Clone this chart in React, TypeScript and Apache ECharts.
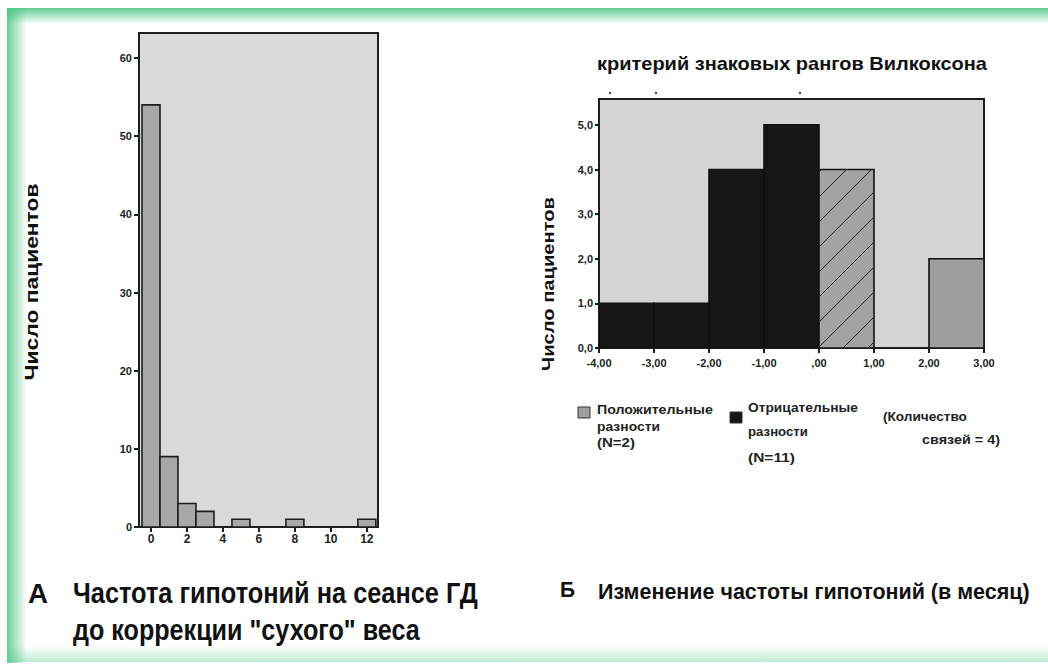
import React, { useEffect, useRef } from "react";
import * as echarts from "echarts";

// ---- data ----
const leftBinCenters = [0, 1, 2, 3, 5, 8, 12];
const leftCounts = [54, 9, 3, 2, 1, 1, 1];
const leftXTicks = [0, 2, 4, 6, 8, 10, 12];
const leftYTicks = [0, 10, 20, 30, 40, 50, 60];

const rightBinStarts = [-4, -3, -2, -1, 0, 2];
const rightBinEnds = [-3, -2, -1, 0, 1, 3];
const rightCounts = [1, 1, 4, 5, 4, 2];
const rightGroups = ["neg", "neg", "neg", "neg", "tie", "pos"];
const rightYTicks = [0, 1, 2, 3, 4, 5];

const yAxisTitle = "Число пациентов";
const rightTitle = "критерий знаковых рангов Вилкоксона";
const legendPos = ["Положительные", "разности", "(N=2)"];
const legendNeg = ["Отрицательные", "разности", "(N=11)"];
const legendTies = ["(Количество", "связей = 4)"];
const captionALetter = "А";
const captionALines = ["Частота гипотоний на сеансе ГД", "до коррекции \"сухого\" веса"];
const captionBLetter = "Б";
const captionB = "Изменение частоты гипотоний (в месяц)";

const FONT = '"Liberation Sans", Arial, sans-serif';

let measureCtx: CanvasRenderingContext2D | null = null;
function textWidth(text: string, font: string): number {
  if (!measureCtx) measureCtx = document.createElement("canvas").getContext("2d");
  if (!measureCtx) return 100;
  measureCtx.font = font;
  return measureCtx.measureText(text).width || 1;
}

function fitText(
  text: string,
  x: number,
  y: number,
  size: number,
  targetW: number,
  opts: { bold?: boolean; align?: string; fill?: string; rotation?: number } = {}
) {
  const font = `${opts.bold === false ? "normal" : "bold"} ${size}px ${FONT}`;
  const w = textWidth(text, font);
  return {
    type: "text",
    x,
    y,
    rotation: opts.rotation || 0,
    scaleX: targetW / w,
    z: 10,
    style: {
      text,
      font,
      fill: opts.fill || "#111",
      textAlign: opts.align || "left",
      textVerticalAlign: "middle",
      verticalAlign: "middle",
    },
  };
}

function fmtX(v: number) {
  const s = Math.abs(v).toFixed(2).replace(".", ",");
  const t = s.startsWith("0,") ? s.slice(1) : s;
  return (v < 0 ? "-" : "") + t;
}
function fmtY(v: number) {
  return v.toFixed(1).replace(".", ",");
}

const axisLineStyle = { color: "#1e1e1e", width: 2 };

function rightSeries(name: string, group: string, fill: string, hatch: boolean) {
  const data: number[][] = [];
  rightGroups.forEach((g, i) => {
    if (g === group) data.push([rightBinStarts[i], rightBinEnds[i], rightCounts[i]]);
  });
  return {
    type: "custom",
    name,
    xAxisIndex: 1,
    yAxisIndex: 1,
    clip: true,
    encode: { x: [0, 1], y: 2 },
    data,
    renderItem: (params: any, api: any) => {
      const p0 = api.coord([api.value(0), api.value(2)]);
      const p1 = api.coord([api.value(1), 0]);
      const x1 = p0[0], y1 = p0[1], x2 = p1[0], y2 = p1[1];
      const children: any[] = [
        {
          type: "rect",
          shape: { x: x1, y: y1, width: x2 - x1, height: y2 - y1 },
          style: { fill, stroke: "#111", lineWidth: 1.6 },
        },
      ];
      if (hatch) {
        const sp = 25;
        const c0 = x2 + y2 - 31;
        const cs: number[] = [];
        for (let c = c0; c > x1 + y1; c -= sp) cs.push(c);
        for (let c = c0 + sp; c < x2 + y2; c += sp) cs.push(c);
        cs.forEach((c) => {
          const lo = Math.max(x1, c - y2);
          const hi = Math.min(x2, c - y1);
          if (hi - lo > 0.5) {
            children.push({
              type: "line",
              shape: { x1: lo, y1: c - lo, x2: hi, y2: c - hi },
              style: { stroke: "#222", lineWidth: 1 },
            });
          }
        });
      }
      return { type: "group", children };
    },
  };
}

export default function App() {
  const ref = useRef<HTMLDivElement>(null);
  useEffect(() => {
    document.body.style.margin = "0";
    if (!ref.current) return;
    const chart = echarts.init(ref.current, null, { renderer: "svg" });

    const green = "rgba(70,196,128,";
    const graphic: any[] = [
      // frame
      {
        type: "rect",
        shape: { x: 7, y: 8, width: 1041, height: 16 },
        z: 1,
        style: {
          fill: new echarts.graphic.LinearGradient(0, 0, 0, 1, [
            { offset: 0, color: green + "0.85)" },
            { offset: 1, color: green + "0)" },
          ]),
        },
      },
      {
        type: "rect",
        shape: { x: 7, y: 8, width: 20, height: 655 },
        z: 1,
        style: {
          fill: new echarts.graphic.LinearGradient(0, 0, 1, 0, [
            { offset: 0, color: green + "0.8)" },
            { offset: 1, color: green + "0)" },
          ]),
        },
      },
      {
        type: "rect",
        shape: { x: 7, y: 646, width: 1041, height: 16 },
        z: 1,
        style: {
          fill: new echarts.graphic.LinearGradient(0, 0, 0, 1, [
            { offset: 0, color: green + "0)" },
            { offset: 1, color: green + "0.35)" },
          ]),
        },
      },
      // y axis titles
      fitText(yAxisTitle, 31, 282, 18, 197, { rotation: Math.PI / 2, align: "center" }),
      fitText(yAxisTitle, 548, 284, 17, 174, { rotation: Math.PI / 2, align: "center" }),
      // right title
      fitText(rightTitle, 792, 63, 19, 390, { align: "center" }),
      // specks above right plot
      { type: "circle", shape: { cx: 610, cy: 93, r: 1.2 }, style: { fill: "#444" } },
      { type: "circle", shape: { cx: 656, cy: 93, r: 1.2 }, style: { fill: "#444" } },
      { type: "circle", shape: { cx: 800, cy: 93, r: 1.2 }, style: { fill: "#444" } },
      // legend
      { type: "rect", shape: { x: 578, y: 407, width: 12, height: 11 }, style: { fill: "#9e9e9e", stroke: "#333", lineWidth: 1 } },
      fitText(legendPos[0], 597, 410, 12, 116, { fill: "#222" }),
      fitText(legendPos[1], 597, 427, 12, 63, { fill: "#222" }),
      fitText(legendPos[2], 597, 443, 12, 38, { fill: "#222" }),
      { type: "rect", shape: { x: 730, y: 412, width: 12, height: 11 }, style: { fill: "#161616", stroke: "#333", lineWidth: 1 } },
      fitText(legendNeg[0], 748, 408, 12, 110, { fill: "#222" }),
      fitText(legendNeg[1], 748, 432, 12, 60, { fill: "#222" }),
      fitText(legendNeg[2], 748, 458, 12, 47, { fill: "#222" }),
      fitText(legendTies[0], 883, 417, 12, 84, { fill: "#222" }),
      fitText(legendTies[1], 922, 440, 12, 78, { fill: "#222" }),
      // captions
      fitText(captionALetter, 28, 593, 28, 20),
      fitText(captionALines[0], 73, 593, 29, 405),
      fitText(captionALines[1], 73, 630, 29, 347),
      fitText(captionBLetter, 560, 590, 22, 15),
      fitText(captionB, 598, 591, 22, 432),
    ];

    chart.setOption({
      animation: false,
      backgroundColor: "#ffffff",
      grid: [
        {
          left: 139,
          top: 33,
          width: 239,
          height: 494,
          show: true,
          backgroundColor: "#dadada",
          borderColor: "#1e1e1e",
          borderWidth: 2,
        },
        {
          left: 599,
          top: 99,
          width: 385,
          height: 249,
          show: true,
          backgroundColor: "#d4d4d4",
          borderColor: "#1e1e1e",
          borderWidth: 2,
        },
      ],
      xAxis: [
        {
          type: "value",
          gridIndex: 0,
          min: -0.667,
          max: 12.62,
          axisLine: { show: true, onZero: false, lineStyle: axisLineStyle },
          axisTick: { show: true, customValues: leftXTicks, length: 5, lineStyle: axisLineStyle },
          axisLabel: { customValues: leftXTicks, color: "#222", fontSize: 12, fontWeight: "bold", fontFamily: FONT, margin: 6 },
          splitLine: { show: false },
        },
        {
          type: "value",
          gridIndex: 1,
          min: -4,
          max: 3,
          interval: 1,
          axisLine: { show: true, onZero: false, lineStyle: axisLineStyle },
          axisTick: { show: true, length: 5, lineStyle: axisLineStyle },
          axisLabel: { color: "#222", fontSize: 11, fontWeight: "bold", fontFamily: FONT, margin: 9, formatter: fmtX },
          splitLine: { show: false },
        },
      ],
      yAxis: [
        {
          type: "value",
          gridIndex: 0,
          min: 0,
          max: 63.2,
          axisLine: { show: true, onZero: false, lineStyle: axisLineStyle },
          axisTick: { show: true, customValues: leftYTicks, length: 5, lineStyle: axisLineStyle },
          axisLabel: { customValues: leftYTicks, color: "#222", fontSize: 11, fontWeight: "bold", fontFamily: FONT, margin: 7 },
          splitLine: { show: false },
        },
        {
          type: "value",
          gridIndex: 1,
          min: 0,
          max: 5.58,
          axisLine: { show: true, onZero: false, lineStyle: axisLineStyle },
          axisTick: { show: true, customValues: rightYTicks, length: 4, lineStyle: axisLineStyle },
          axisLabel: { customValues: rightYTicks, color: "#222", fontSize: 11, fontWeight: "bold", fontFamily: FONT, margin: 6, formatter: fmtY },
          splitLine: { show: false },
        },
      ],
      series: [
        {
          type: "custom",
          name: "Частота гипотоний",
          xAxisIndex: 0,
          yAxisIndex: 0,
          clip: true,
          encode: { x: 0, y: 1 },
          data: leftBinCenters.map((c, i) => [c, leftCounts[i]]),
          renderItem: (params: any, api: any) => {
            const c = api.value(0);
            const n = api.value(1);
            const p0 = api.coord([c - 0.5, n]);
            const p1 = api.coord([c + 0.5, 0]);
            return {
              type: "rect",
              shape: { x: p0[0], y: p0[1], width: p1[0] - p0[0], height: p1[1] - p0[1] },
              style: { fill: "#a8a8a8", stroke: "#1e1e1e", lineWidth: 1.6 },
            };
          },
        },
        rightSeries("Отрицательные разности", "neg", "#161616", false),
        rightSeries("Связи", "tie", "#a3a3a3", true),
        rightSeries("Положительные разности", "pos", "#9e9e9e", false),
      ],
      graphic,
    });
    return () => chart.dispose();
  }, []);
  return <div ref={ref} style={{ width: 1048, height: 665 }} />;
}
